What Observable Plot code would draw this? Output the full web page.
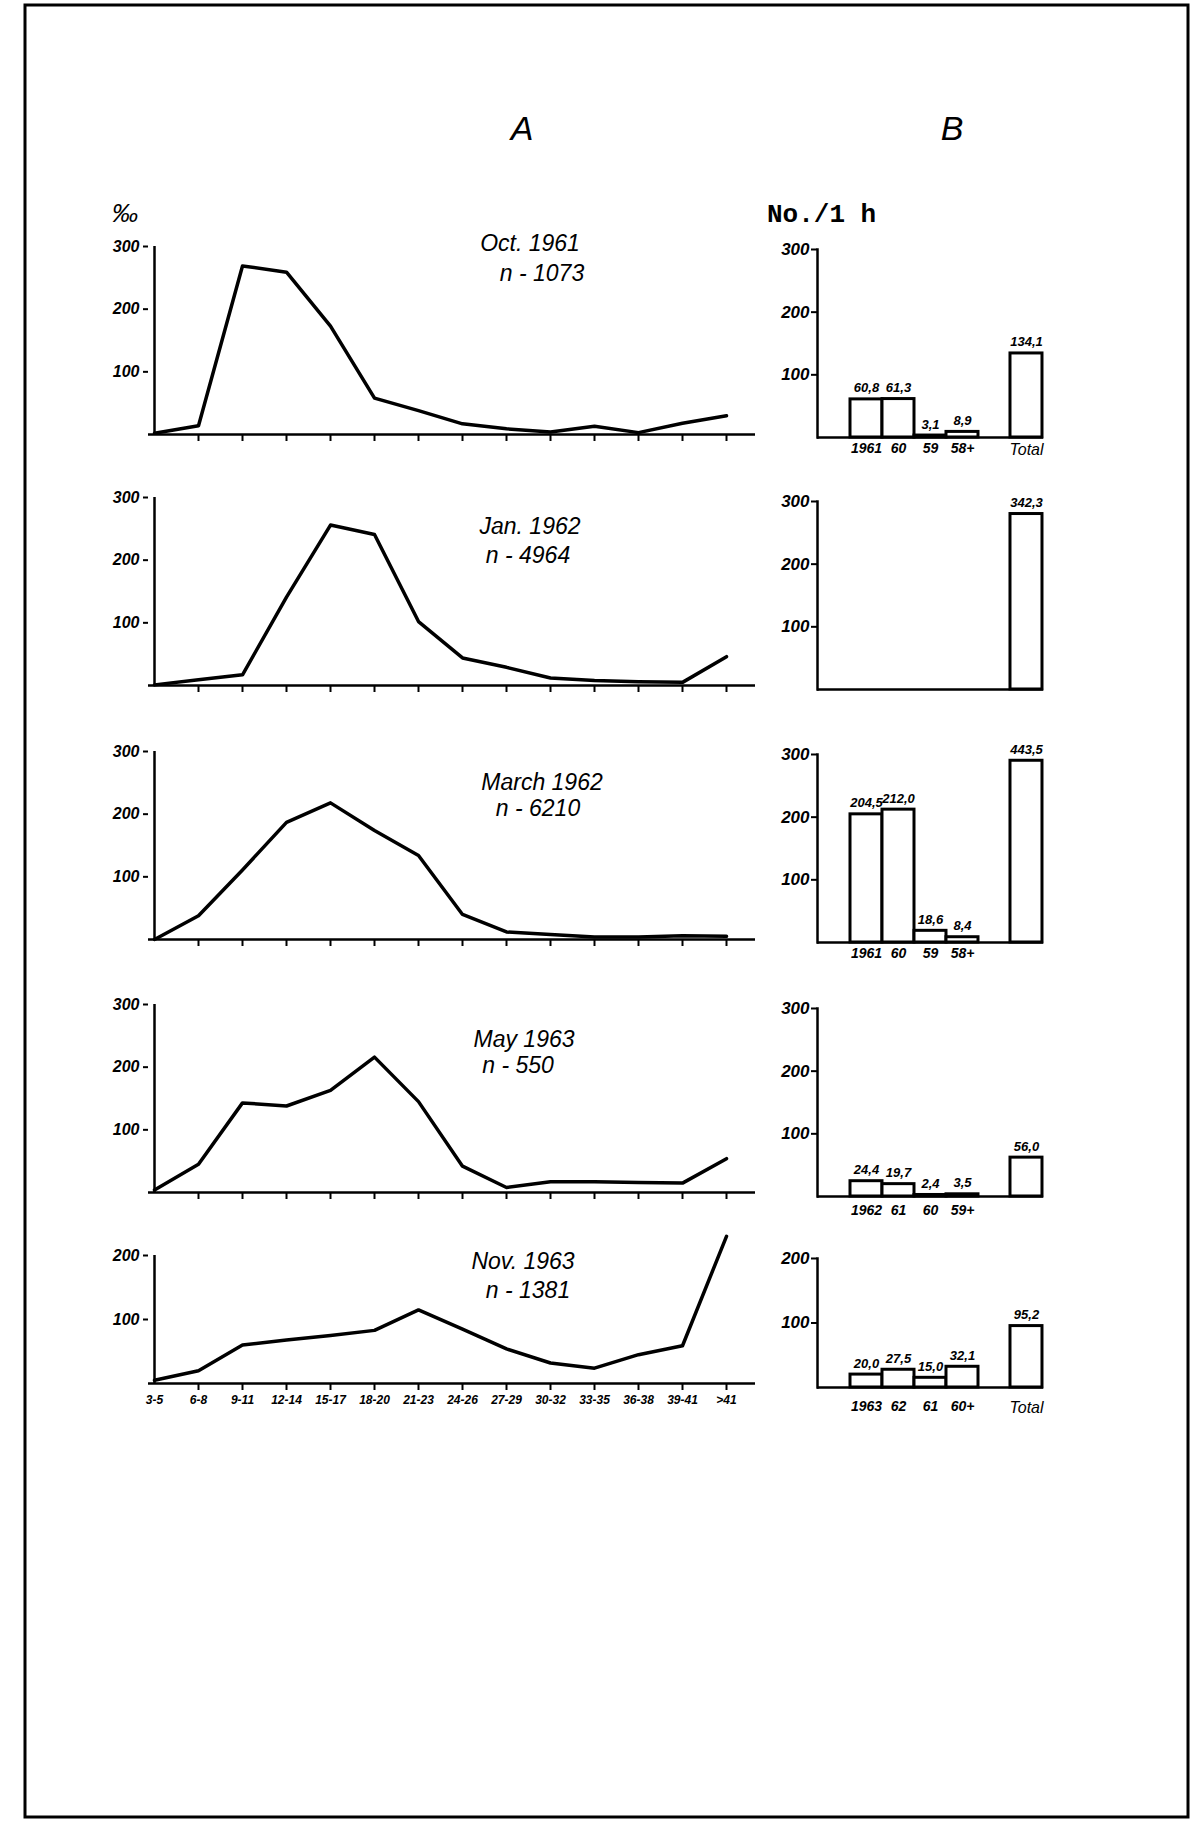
<!DOCTYPE html>
<html>
<head>
<meta charset="utf-8">
<script src="https://cdn.jsdelivr.net/npm/d3@7"></script>
<script src="https://cdn.jsdelivr.net/npm/@observablehq/plot@0.6"></script>
<style>
  html, body { margin: 0; padding: 0; background: #fff; }
  #page { position: relative; width: 1196px; height: 1825px; overflow: hidden; background: #fff; }
  #page svg { max-width: none !important; }
</style>
</head>
<body>
<div id="page"></div>
<script>
// ---------------- DATA ----------------
const ageClasses = ["3-5","6-8","9-11","12-14","15-17","18-20","21-23","24-26","27-29","30-32","33-35","36-38","39-41",">41"];

const octA = [2, 14, 269, 259, 173, 58, 38, 17, 9, 4, 13, 3, 18, 30];
const janA = [1, 9, 17, 141, 256, 241, 102, 44, 29, 12, 8, 6, 5, 46];
const marA = [0, 38, 111, 187, 218, 174, 134, 40, 12, 8, 4, 4, 6, 5];
const mayA = [4, 45, 143, 138, 163, 216, 145, 42, 8, 17, 17, 16, 15, 54];
const novA = [5, 20, 60, 68, 75, 83, 115, 85, 54, 32, 24, 45, 59, 230];
const seriesA = [octA, janA, marA, mayA, novA];

const sampleNames = ["Oct. 1961", "Jan. 1962", "March 1962", "May 1963", "Nov. 1963"];
const sampleN = ["n - 1073", "n - 4964", "n - 6210", "n - 550", "n - 1381"];

const yTicksA = [[100, 200, 300], [100, 200, 300], [100, 200, 300], [100, 200, 300], [100, 200]];
const yMaxA = [300, 300, 300, 300, 200];

const yearClassesB = [
  ["1961", "60", "59", "58+"],
  [],
  ["1961", "60", "59", "58+"],
  ["1962", "61", "60", "59+"],
  ["1963", "62", "61", "60+"]
];
const yearValuesB = [
  [60.8, 61.3, 3.1, 8.9],
  [],
  [204.5, 212.0, 18.6, 8.4],
  [24.4, 19.7, 2.4, 3.5],
  [20.0, 27.5, 15.0, 32.1]
];
const totalsB = [134.1, 342.3, 443.5, 56.0, 95.2];
// bar heights as drawn in the figure (the two largest totals are cut short)
const totalsDrawnB = [134.1, 280, 290, 62, 95.2];
const showTotalLabel = [true, false, false, false, true];
const yTicksB = [[100, 200, 300], [100, 200, 300], [100, 200, 300], [100, 200, 300], [100, 200]];
const yMaxB = [300, 300, 300, 300, 200];

const headerA = "A";
const headerB = "B";
const unitA = "‰";
const unitB = "No./1 h";

// ---------------- LAYOUT ----------------
const page = document.getElementById("page");
function place(el, left, top) {
  el.style.position = "absolute";
  el.style.left = left + "px";
  el.style.top = top + "px";
  page.appendChild(el);
}
const fmt = v => v.toFixed(1).replace(".", ",");
const FONT = "'Liberation Sans', Arial, sans-serif";

const A_X0 = 148, A_X1 = 731, A_ML = 50, A_MR = 40, A_MT = 50;
const topA = [246, 497, 751, 1004, 1255];
const plotHA = [188, 188, 188, 188, 128];
const titleDx = [[90, 102], [90, 88], [102, 98], [84, 78], [83, 88]];
const titleDy = [[4, 34], [36, 65], [38, 64], [42, 68], [13, 42]];

const B_X0 = 817, B_SLOT = 32.3, B_ML = 50, B_MR = 25, B_MT = 50;
const topB = [249, 501, 754, 1008, 1258];
const plotHB = [188, 188, 188, 188, 129];
const xLabelPadB = [6, 6, 6, 9, 14];

const svgStyle = {
  background: "transparent",
  fontFamily: FONT,
  fontStyle: "italic",
  fontWeight: "bold",
  fontSize: "16px",
  color: "black",
  overflow: "visible"
};

// ---------------- PANELS A ----------------
for (let i = 0; i < 5; i++) {
  const mb = i === 4 ? 40 : 20;
  const data = ageClasses.map((c, j) => ({ cls: c, v: seriesA[i][j] }));
  const marks = [
    Plot.ruleY([0], { insetRight: -24, strokeWidth: 2.5 }),
    Plot.ruleX([ageClasses[0]], { y1: 0, y2: yMaxA[i], strokeWidth: 2.5 }),
    Plot.axisY({ ticks: yTicksA[i], tickSize: 5, tickPadding: 4, tickFormat: d => String(d), strokeWidth: 2, fontSize: 16, label: null }),
    Plot.axisX({ ticks: ageClasses.slice(1), tickSize: 7, tickFormat: () => "", strokeWidth: 2, label: null }),
    Plot.line(data, { x: "cls", y: "v", stroke: "black", strokeWidth: 3.5, strokeLinejoin: "round", strokeLinecap: "round" }),
    Plot.text([sampleNames[i]], { text: d => d, frameAnchor: "top", dx: titleDx[i][0], dy: titleDy[i][0], lineAnchor: "bottom", fontSize: 23, fontWeight: "normal", fontStyle: "italic" }),
    Plot.text([sampleN[i]], { text: d => d, frameAnchor: "top", dx: titleDx[i][1], dy: titleDy[i][1], lineAnchor: "bottom", fontSize: 23, fontWeight: "normal", fontStyle: "italic" })
  ];
  if (i === 4) {
    marks.push(Plot.axisX({ tickSize: 0, tickPadding: 12, fontSize: 12, tickFormat: d => d, label: null }));
  }
  const chart = Plot.plot({
    width: A_ML + (A_X1 - A_X0) + A_MR,
    height: A_MT + plotHA[i] + mb,
    marginLeft: A_ML, marginRight: A_MR, marginTop: A_MT, marginBottom: mb,
    x: { type: "point", domain: ageClasses, padding: 0, axis: null, label: null },
    y: { domain: [0, yMaxA[i]], axis: null, label: null },
    style: svgStyle,
    marks
  });
  place(chart, A_X0 - A_ML, topA[i] - A_MT);
}

// ---------------- PANELS B ----------------
for (let i = 0; i < 5; i++) {
  const cats = yearClassesB[i];
  const slots = [0, 1, 2, 3].map(k => cats[k] ?? ("_s" + k));
  const domain = ["_pad", ...slots, "_gap", "Total"];
  const rows = cats.map((c, k) => ({ cat: c, h: yearValuesB[i][k], label: fmt(yearValuesB[i][k]) }));
  rows.push({ cat: "Total", h: totalsDrawnB[i], label: fmt(totalsB[i]) });
  const mb = 40;
  const marks = [
    Plot.barY(rows, { x: "cat", y: "h", fill: "white", stroke: "black", strokeWidth: 3 }),
    Plot.ruleY([0], { strokeWidth: 2.5 }),
    Plot.frame({ anchor: "left", strokeWidth: 2.5 }),
    Plot.axisY({ ticks: yTicksB[i], tickSize: 6, tickPadding: 2, tickFormat: d => String(d), strokeWidth: 2, fontSize: 17, label: null }),
    Plot.text(rows, { x: "cat", y: "h", text: "label", dy: -7, lineAnchor: "bottom", fontSize: 13 })
  ];
  if (cats.length) {
    marks.push(Plot.axisX({ ticks: cats, tickSize: 0, tickPadding: xLabelPadB[i], tickFormat: d => d, fontSize: 14, label: null }));
  }
  if (showTotalLabel[i]) {
    marks.push(Plot.axisX({ ticks: ["Total"], tickSize: 0, tickPadding: xLabelPadB[i], tickFormat: d => d, fontSize: 16, fontWeight: "normal", label: null }));
  }
  const chart = Plot.plot({
    width: B_ML + B_SLOT * domain.length + B_MR,
    height: B_MT + plotHB[i] + mb,
    marginLeft: B_ML, marginRight: B_MR, marginTop: B_MT, marginBottom: mb,
    x: { type: "band", domain, padding: 0, axis: null, label: null },
    y: { domain: [0, yMaxB[i]], axis: null, label: null },
    style: svgStyle,
    marks
  });
  place(chart, B_X0 - B_ML, topB[i] - B_MT);
}

// ---------------- HEADERS & BORDER ----------------
const over = d3.create("svg").attr("width", 1196).attr("height", 1825)
  .style("position", "absolute").style("left", "0px").style("top", "0px").style("pointer-events", "none");
over.append("rect").attr("x", 25).attr("y", 5).attr("width", 1163).attr("height", 1812)
  .attr("fill", "none").attr("stroke", "black").attr("stroke-width", 3);
over.append("text").text(headerA).attr("x", 522).attr("y", 140).attr("text-anchor", "middle")
  .attr("font-family", FONT).attr("font-style", "italic").attr("font-size", 34);
over.append("text").text(headerB).attr("x", 952).attr("y", 140).attr("text-anchor", "middle")
  .attr("font-family", FONT).attr("font-style", "italic").attr("font-size", 34);
over.append("text").text(unitA).attr("x", 112).attr("y", 222)
  .attr("font-family", FONT).attr("font-style", "italic").attr("font-size", 26);
over.append("text").text(unitB).attr("x", 767).attr("y", 222)
  .attr("font-family", "'Liberation Mono', 'DejaVu Sans Mono', monospace").attr("font-weight", "bold").attr("font-size", 26);
page.appendChild(over.node());
</script>
</body>
</html>
